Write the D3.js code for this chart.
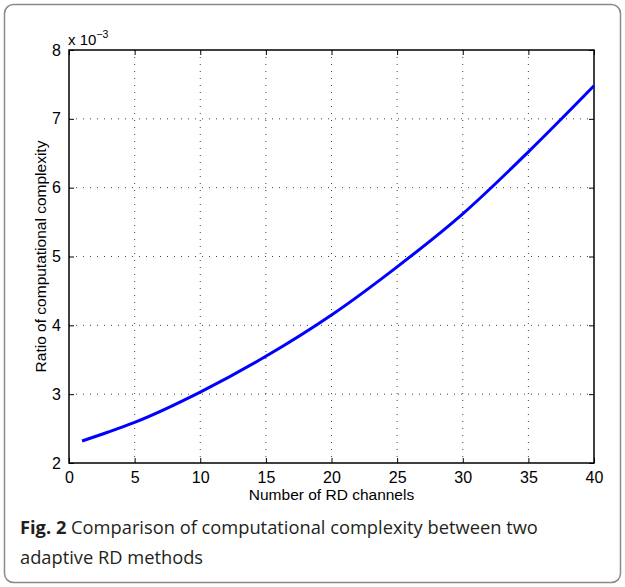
<!DOCTYPE html>
<html><head><meta charset="utf-8">
<script src="https://cdn.jsdelivr.net/npm/d3@7"></script>
<style>body{margin:0;background:#fff}svg{display:block}</style>
</head><body>
<svg id="c" width="625" height="587"></svg>
<script>
const channels = [1, 3, 5, 10, 15, 20, 25, 30, 35, 40];
const ratio = [2.32, 2.45, 2.59, 3.03, 3.55, 4.15, 4.85, 5.62, 6.52, 7.48];
const xTicks = [0, 5, 10, 15, 20, 25, 30, 35, 40];
const yTicks = [2, 3, 4, 5, 6, 7, 8];
const xLabel = "Number of RD channels";
const yLabel = "Ratio of computational complexity";
const captionBold = "Fig. 2";
const captionLine1 = " Comparison of computational complexity between two";
const captionLine2 = "adaptive RD methods";

const svg = d3.select("#c");
const L = 69, R = 594, T = 50, B = 463;
const x = d3.scaleLinear().domain([0, 40]).range([L, R]);
const y = d3.scaleLinear().domain([2, 8]).range([B, T]);
const font = "Liberation Sans, Arial, sans-serif";

// outer rounded frame
svg.append("rect").attr("x", 4.5).attr("y", 4.5).attr("width", 616).attr("height", 578)
  .attr("rx", 9).attr("fill", "none").attr("stroke", "#8a8a8a").attr("stroke-width", 1.5);

// grid
const g = svg.append("g");
g.selectAll(".gx").data(xTicks.slice(1, -1)).join("line")
  .attr("x1", d => x(d)).attr("x2", d => x(d)).attr("y1", T).attr("y2", B)
  .attr("stroke", "#444").attr("stroke-width", 1).attr("stroke-dasharray", "1,6");
g.selectAll(".gy").data(yTicks.slice(1, -1)).join("line")
  .attr("y1", d => y(d)).attr("y2", d => y(d)).attr("x1", L).attr("x2", R)
  .attr("stroke", "#444").attr("stroke-width", 1).attr("stroke-dasharray", "1,6");

// axes via d3
const xAx = svg.append("g").attr("transform", `translate(0,${B})`)
  .call(d3.axisBottom(x).tickValues(xTicks).tickSize(-5).tickPadding(9).tickFormat(d3.format("d")));
const xTop = svg.append("g").attr("transform", `translate(0,${T})`)
  .call(d3.axisTop(x).tickValues(xTicks).tickSize(-5).tickFormat(""));
const yAx = svg.append("g").attr("transform", `translate(${L},0)`)
  .call(d3.axisLeft(y).tickValues(yTicks).tickSize(-5).tickPadding(8).tickFormat(d3.format("d")));
const yR = svg.append("g").attr("transform", `translate(${R},0)`)
  .call(d3.axisRight(y).tickValues(yTicks).tickSize(-5).tickFormat(""));
[xAx, xTop, yAx, yR].forEach(a => {
  a.select(".domain").remove();
  a.selectAll("line").attr("stroke", "#000").attr("stroke-width", 1);
  a.selectAll("text").attr("font-family", font).attr("font-size", 16).attr("fill", "#000");
});

// box
svg.append("rect").attr("x", L).attr("y", T).attr("width", R - L).attr("height", B - T)
  .attr("fill", "none").attr("stroke", "#000").attr("stroke-width", 1.5);

// curve
const line = d3.line().x((d, i) => x(channels[i])).y(d => y(d)).curve(d3.curveMonotoneX);
svg.append("path").datum(ratio).attr("d", line)
  .attr("fill", "none").attr("stroke", "#0000ff").attr("stroke-width", 3);

// exponent
const ex = svg.append("text").attr("x", 68).attr("y", 45).attr("font-family", font)
  .attr("font-size", 15).attr("fill", "#000");
ex.append("tspan").text("x 10");
ex.append("tspan").attr("font-size", 10.5).attr("dy", -7).text("\u22123");

// axis labels
svg.append("text").attr("x", (L + R) / 2).attr("y", 500).attr("text-anchor", "middle")
  .attr("font-family", font).attr("font-size", 15.5).text(xLabel);
svg.append("text").attr("transform", `translate(46,${(T + B) / 2}) rotate(-90)`)
  .attr("text-anchor", "middle").attr("font-family", font).attr("font-size", 15.5).text(yLabel);

// caption
const capFont = "Open Sans, Lato, sans-serif";
const c1 = svg.append("text").attr("x", 20).attr("y", 534).attr("font-family", capFont)
  .attr("font-size", 18.3).attr("fill", "#231f20");
c1.append("tspan").attr("font-weight", "bold").text(captionBold);
c1.append("tspan").text(captionLine1);
svg.append("text").attr("x", 20).attr("y", 564).attr("font-family", capFont)
  .attr("font-size", 18.3).attr("fill", "#231f20").text(captionLine2);
</script>
</body></html>
